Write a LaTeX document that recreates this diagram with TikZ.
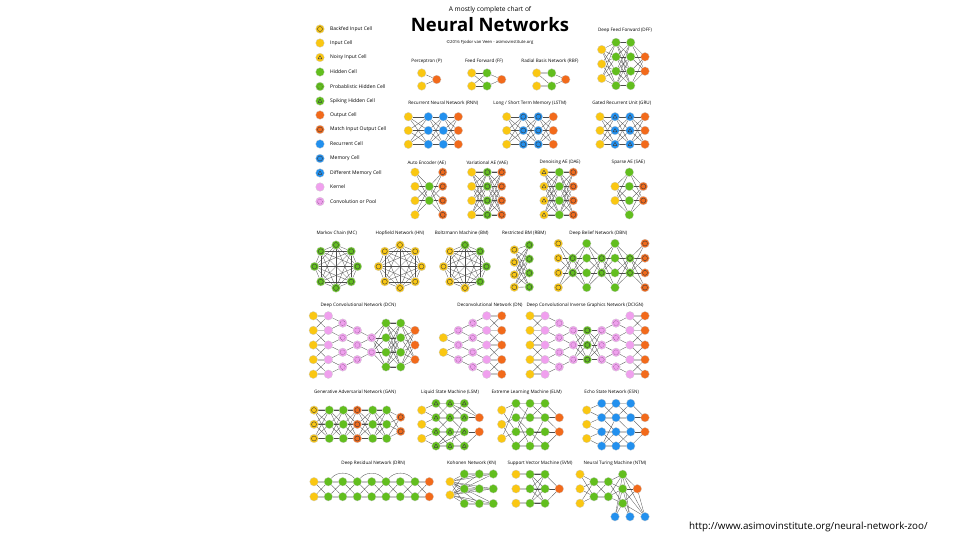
\documentclass[tikz,border=0pt]{standalone}
\usepackage{fontspec}
\setmainfont{Open Sans}
\usetikzlibrary{calc}
\definecolor{cyel}{HTML}{FAC712}
\definecolor{cgrn}{HTML}{62BE1E}
\definecolor{corg}{HTML}{F26A1B}
\definecolor{cblu}{HTML}{2290EE}
\definecolor{cpnk}{HTML}{F0A0EE}
\pgfdeclarelayer{paper}
\pgfdeclarelayer{bg}
\pgfsetlayers{paper,bg,main}
\tikzset{
 cell/.style={circle,minimum size=8.6pt,inner sep=0pt,draw=black!20,line width=0.25pt},
 ring/.style={path picture={\draw[line width=0.4pt,black!75] (path picture bounding box.center) circle (2.5pt);}},
 dring/.style={path picture={\draw[line width=0.4pt,black!75,densely dotted] (path picture bounding box.center) circle (2.5pt);}},
 tri/.style={path picture={\draw[line width=0.4pt,black!75,line join=round] ([shift={(-2pt,-1.4pt)}]path picture bounding box.center) -- ++(4pt,0pt) -- ++(-2pt,3.4pt) -- cycle;}},
 inp/.style={cell,fill=cyel}, bin/.style={inp,ring}, nin/.style={inp,tri},
 hid/.style={cell,fill=cgrn}, phid/.style={hid,ring}, shid/.style={hid,tri},
 outc/.style={cell,fill=corg}, mout/.style={outc,ring},
 rec/.style={cell,fill=cblu}, mem/.style={rec,ring}, dmem/.style={rec,tri},
 ker/.style={cell,fill=cpnk}, conv/.style={ker,dring},
 link/.style={black!70,line width=0.3pt},
 bar/.style={black!22,line width=1.8pt},
 ttl/.style={font=\fontsize{4.6}{5}\selectfont,inner sep=0pt},
 lgd/.style={font=\fontsize{5}{6}\selectfont,anchor=west,inner sep=0pt},
}
\newcommand\NNlay[6]{\foreach \i in {1,...,#4}{\node[#5] (#1\i) at (#2,{#3+(\i-(#4+1)/2)*#6}) {};}}
\newcommand\NNfull[4]{\begin{pgfonlayer}{bg}\foreach \i in {1,...,#2}{\foreach \j in {1,...,#4}{\draw[link] (#1\i) -- (#3\j);}}\end{pgfonlayer}}
\newcommand\NNbars[3]{\begin{pgfonlayer}{bg}\foreach \i in {1,...,#3}{\draw[bar] (#1\i) -- (#2\i);}\end{pgfonlayer}}
\newcommand\NNcross[3]{\NNbars{#1}{#2}{#3}\begin{pgfonlayer}{bg}\foreach \i in {2,...,#3}{\pgfmathtruncatemacro\im{\i-1}\draw[link] (#1\i) -- (#2\im) (#1\im) -- (#2\i);}\end{pgfonlayer}}
\newcommand\NNshrink[3]{\begin{pgfonlayer}{bg}\foreach \i in {1,...,#3}{\pgfmathtruncatemacro\ip{\i+1}\draw[link] (#2\i) -- (#1\i) (#2\i) -- (#1\ip);}\end{pgfonlayer}}
\newcommand\NNlk[1]{\begin{pgfonlayer}{bg}\foreach \a/\b in {#1}{\draw[link] (\a) -- (\b);}\end{pgfonlayer}}
\newcommand\NNoctfull[1]{\begin{pgfonlayer}{bg}\foreach \i in {1,...,7}{\pgfmathtruncatemacro\ipp{\i+1}\foreach \j in {\ipp,...,8}{\draw[link] (#1\i) -- (#1\j);}}\end{pgfonlayer}}
\begin{document}
\begin{tikzpicture}[x=1pt,y=-1pt]
\begin{pgfonlayer}{paper}
\fill[white] (0,0) rectangle (960,540);
\end{pgfonlayer}
\useasboundingbox (0,0) rectangle (960,540);
% header
\node[font=\fontsize{6.6}{7}\selectfont,inner sep=0pt] (hsub) at (490,10) {A mostly complete chart of};
\node[font=\fontsize{18.5}{20}\selectfont\bfseries,inner sep=0pt] (htitle) at (490,24.5) {Neural Networks};
\node[font=\fontsize{4.2}{5}\selectfont,inner sep=0pt] (hcopy) at (490,42) {©2016 Fjodor van Veen - asimovinstitute.org};
\node[font=\fontsize{9.8}{11}\selectfont,anchor=west,inner sep=0pt] (url) at (689,527) {http://www.asimovinstitute.org/neural-network-zoo/};
% legend
\node[bin]  (L1)  at (320,29) {};   \node[lgd] (L1t)  at (330,29) {Backfed Input Cell};
\node[inp]  (L2)  at (320,43) {};   \node[lgd] (L2t)  at (330,43) {Input Cell};
\node[nin]  (L3)  at (320,57.5) {}; \node[lgd] (L3t)  at (330,57.5) {Noisy Input Cell};
\node[hid]  (L4)  at (320,72) {};   \node[lgd] (L4t)  at (330,72) {Hidden Cell};
\node[hid,dring] (L5) at (320,86.5) {}; \node[lgd] (L5t) at (330,86.5) {Probablistic Hidden Cell};
\node[shid] (L6)  at (320,101) {};  \node[lgd] (L6t)  at (330,101) {Spiking Hidden Cell};
\node[outc] (L7)  at (320,115) {};  \node[lgd] (L7t)  at (330,115) {Output Cell};
\node[mout] (L8)  at (320,129.5) {};\node[lgd] (L8t)  at (330,129.5) {Match Input Output Cell};
\node[rec]  (L9)  at (320,144) {};  \node[lgd] (L9t)  at (330,144) {Recurrent Cell};
\node[mem]  (L10) at (320,158.5) {};\node[lgd] (L10t) at (330,158.5) {Memory Cell};
\node[dmem] (L11) at (320,173) {};  \node[lgd] (L11t) at (330,173) {Different Memory Cell};
\node[ker]  (L12) at (320,187) {};  \node[lgd] (L12t) at (330,187) {Kernel};
\node[conv] (L13) at (320,201.5) {};\node[lgd] (L13t) at (330,201.5) {Convolution or Pool};
% Perceptron
\node[ttl] (tP) at (426.7,61) {Perceptron (P)};
\NNlay{pa}{421.7}{79.5}{2}{inp}{13}
\NNlay{pb}{436.7}{79.5}{1}{outc}{13}
\NNfull{pa}{2}{pb}{1}
% FF
\node[ttl] (tFF) at (484,61) {Feed Forward (FF)};
\NNlay{fa}{471.7}{79.5}{2}{inp}{13}
\NNlay{fb}{487}{79.5}{2}{hid}{13}
\NNlay{fc}{501.7}{79.5}{1}{outc}{13}
\NNfull{fa}{2}{fb}{2}\NNfull{fb}{2}{fc}{1}
% RBF
\node[ttl] (tRBF) at (550,61) {Radial Basis Network (RBF)};
\NNlay{ra}{536.7}{79.5}{2}{inp}{13}
\NNlay{rb}{551.7}{79.5}{2}{hid}{13}
\NNlay{rc}{565.7}{79.5}{1}{outc}{13}
\NNbars{ra}{rb}{2}\NNlk{ra1/rb2}\NNfull{rb}{2}{rc}{1}
% DFF
\node[ttl] (tDFF) at (625,30) {Deep Feed Forward (DFF)};
\NNlay{da}{601.7}{64}{3}{inp}{14.4}
\NNlay{db}{616}{64}{4}{hid}{14.4}
\NNlay{dc}{630.7}{64}{4}{hid}{14.4}
\NNlay{dd}{645}{64}{2}{outc}{14.4}
\NNfull{da}{3}{db}{4}\NNfull{db}{4}{dc}{4}\NNfull{dc}{4}{dd}{2}
% RNN
\node[ttl] (tRNN) at (443.3,103.3) {Recurrent Neural Network (RNN)};
\NNlay{na}{408.3}{130.5}{3}{inp}{13.8}
\NNlay{nb}{428.3}{130.5}{3}{rec}{13.8}
\NNlay{nc}{443.3}{130.5}{3}{rec}{13.8}
\NNlay{nd}{458.3}{130.5}{3}{outc}{13.8}
\NNfull{na}{3}{nb}{3}\NNfull{nb}{3}{nc}{3}\NNfull{nc}{3}{nd}{3}
% LSTM
\node[ttl] (tLSTM) at (530,103.3) {Long / Short Term Memory (LSTM)};
\NNlay{la}{506.7}{130.5}{3}{inp}{13.8}
\NNlay{lb}{523.3}{130.5}{3}{mem}{13.8}
\NNlay{lc}{538.3}{130.5}{3}{mem}{13.8}
\NNlay{ld}{553.3}{130.5}{3}{outc}{13.8}
\NNfull{la}{3}{lb}{3}\NNfull{lb}{3}{lc}{3}\NNfull{lc}{3}{ld}{3}
% GRU
\node[ttl] (tGRU) at (621.7,103.3) {Gated Recurrent Unit (GRU)};
\NNlay{ga}{600}{130.5}{3}{inp}{13.8}
\NNlay{gb}{615}{130.5}{3}{dmem}{13.8}
\NNlay{gc}{630}{130.5}{3}{dmem}{13.8}
\NNlay{gd}{645}{130.5}{3}{outc}{13.8}
\NNfull{ga}{3}{gb}{3}\NNfull{gb}{3}{gc}{3}\NNfull{gc}{3}{gd}{3}
% AE
\node[ttl] (tAE) at (426.7,162.7) {Auto Encoder (AE)};
\NNlay{aa}{415}{193.5}{4}{inp}{14.2}
\NNlay{ab}{429.3}{193.5}{2}{hid}{14.2}
\NNlay{ac}{442.7}{193.5}{4}{mout}{14.2}
\NNfull{aa}{4}{ab}{2}\NNfull{ab}{2}{ac}{4}
% VAE
\node[ttl] (tVAE) at (487.3,162.7) {Variational AE (VAE)};
\NNlay{va}{471.7}{193.5}{4}{inp}{14.2}
\NNlay{vb}{487.3}{193.5}{4}{phid}{14.2}
\NNlay{vc}{501.7}{193.5}{4}{mout}{14.2}
\NNbars{va}{vb}{4}\NNbars{vb}{vc}{4}\NNfull{va}{4}{vb}{4}\NNfull{vb}{4}{vc}{4}
% DAE
\node[ttl] (tDAE) at (560,162.7) {Denoising AE (DAE)};
\NNlay{ea}{544}{193.5}{4}{nin}{14.2}
\NNlay{eb}{559.3}{193.5}{4}{hid}{14.2}
\NNlay{ec}{573.3}{193.5}{4}{mout}{14.2}
\NNbars{ea}{eb}{4}\NNbars{eb}{ec}{4}\NNfull{ea}{4}{eb}{4}\NNfull{eb}{4}{ec}{4}
% SAE
\node[ttl] (tSAE) at (628.3,162.7) {Sparse AE (SAE)};
\NNlay{sa}{615}{193.5}{2}{inp}{14.2}
\NNlay{sb}{629.3}{193.5}{4}{hid}{14.2}
\NNlay{sc}{643.3}{193.5}{2}{mout}{14.2}
\NNfull{sa}{2}{sb}{4}\NNfull{sb}{4}{sc}{2}
% MC
\node[ttl] (tMC) at (336.7,233.3) {Markov Chain (MC)};
\foreach \k in {1,...,8}{\node[phid] (mk\k) at ({336+21.5*cos(45*\k)},{266.5+21.5*sin(45*\k)}) {};}
\NNoctfull{mk}
% HN
\node[ttl] (tHN) at (400,233.3) {Hopfield Network (HN)};
\foreach \k in {1,...,8}{\node[bin] (hn\k) at ({400+21.5*cos(45*\k)},{266.5+21.5*sin(45*\k)}) {};}
\NNoctfull{hn}
% BM
\node[ttl] (tBM) at (461.7,233.3) {Boltzmann Machine (BM)};
\foreach \k in {2,3,4,5}{\node[bin] (bm\k) at ({465+21.5*cos(45*\k)},{266.5+21.5*sin(45*\k)}) {};}
\foreach \k in {1,6,7,8}{\node[phid] (bm\k) at ({465+21.5*cos(45*\k)},{266.5+21.5*sin(45*\k)}) {};}
\NNoctfull{bm}
% RBM
\node[ttl] (tRBM) at (524,233.3) {Restricted BM (RBM)};
\NNlay{rma}{514.3}{268.5}{4}{bin}{12.5}
\NNlay{rmb}{529.3}{266}{4}{phid}{14}
\NNfull{rma}{4}{rmb}{4}
% DBN
\node[ttl] (tDBN) at (598.3,233.3) {Deep Belief Network (DBN)};
\NNlay{ba}{558.3}{265.5}{4}{bin}{14.7}
\NNlay{bb}{572.7}{265.5}{2}{phid}{14.7}
\NNlay{bc}{586.7}{265.5}{4}{hid}{14.7}
\NNlay{bd}{601.7}{265.5}{2}{phid}{14.7}
\NNlay{be}{615}{265.5}{4}{hid}{14.7}
\NNlay{bf}{630}{265.5}{2}{phid}{14.7}
\NNlay{bg}{645}{265.5}{4}{mout}{14.7}
\NNfull{ba}{4}{bb}{2}\NNfull{bb}{2}{bc}{4}\NNfull{bc}{4}{bd}{2}\NNfull{bd}{2}{be}{4}\NNfull{be}{4}{bf}{2}\NNfull{bf}{2}{bg}{4}
% DCN
\node[ttl] (tDCN) at (358.3,305) {Deep Convolutional Network (DCN)};
\NNlay{ca}{313.3}{345}{5}{inp}{14.6}
\NNlay{cb}{328.3}{345}{5}{ker}{14.6}
\NNlay{cc}{342.7}{345}{4}{conv}{14.6}
\NNlay{cd}{357.3}{345}{3}{conv}{14.6}
\NNlay{ce}{371.7}{345}{2}{conv}{14.6}
\NNlay{cf}{386}{345}{4}{hid}{14.6}
\NNlay{cg}{400.7}{345}{4}{hid}{14.6}
\NNlay{ch}{415}{345}{3}{outc}{14.6}
\NNcross{ca}{cb}{5}\NNshrink{cb}{cc}{4}\NNshrink{cc}{cd}{3}\NNshrink{cd}{ce}{2}
\NNfull{ce}{2}{cf}{4}\NNbars{cf}{cg}{4}\NNfull{cf}{4}{cg}{4}\NNfull{cg}{4}{ch}{3}
% DN
\node[ttl] (tDN) at (490,305) {Deconvolutional Network (DN)};
\NNlay{xa}{443.3}{345}{2}{inp}{14.6}
\NNlay{xb}{458.3}{345}{3}{conv}{14.6}
\NNlay{xc}{472.7}{345}{4}{conv}{14.6}
\NNlay{xd}{486.7}{345}{5}{ker}{14.6}
\NNlay{xe}{501.7}{345}{5}{outc}{14.6}
\NNshrink{xb}{xa}{2}\NNshrink{xc}{xb}{3}\NNshrink{xd}{xc}{4}\NNcross{xd}{xe}{5}
% DCIGN
\node[ttl] (tDCIGN) at (585,305) {Deep Convolutional Inverse Graphics Network (DCIGN)};
\NNlay{ia}{530}{345}{5}{inp}{14.6}
\NNlay{ib}{545}{345}{5}{ker}{14.6}
\NNlay{ic}{559.3}{345}{4}{conv}{14.6}
\NNlay{id}{573.3}{345}{3}{conv}{14.6}
\NNlay{ie}{587.3}{345}{3}{phid}{14.6}
\NNlay{iq}{601.7}{345}{3}{conv}{14.6}
\NNlay{ig}{616}{345}{4}{conv}{14.6}
\NNlay{ih}{630}{345}{5}{ker}{14.6}
\NNlay{ii}{645}{345}{5}{outc}{14.6}
\NNcross{ia}{ib}{5}\NNshrink{ib}{ic}{4}\NNshrink{ic}{id}{3}\NNfull{id}{3}{ie}{3}\NNfull{ie}{3}{iq}{3}
\NNshrink{ig}{iq}{3}\NNshrink{ih}{ig}{4}\NNcross{ih}{ii}{5}
% GAN
\node[ttl] (tGAN) at (355,392.3) {Generative Adversarial Network (GAN)};
\NNlay{qa}{314}{424.3}{3}{bin}{14.2}
\NNlay{qb}{329.3}{424.3}{3}{hid}{14.2}
\NNlay{qc}{343.3}{424.3}{3}{hid}{14.2}
\NNlay{qd}{357.3}{424.3}{3}{mout}{14.2}
\NNlay{qe}{372.7}{424.3}{3}{hid}{14.2}
\NNlay{qf}{386.7}{424.3}{3}{hid}{14.2}
\NNlay{qg}{400.7}{424.3}{2}{mout}{14.2}
\NNbars{qa}{qb}{3}\NNbars{qb}{qc}{3}\NNbars{qc}{qd}{3}\NNbars{qd}{qe}{3}\NNbars{qe}{qf}{3}
\NNfull{qa}{3}{qb}{3}\NNfull{qb}{3}{qc}{3}\NNfull{qc}{3}{qd}{3}\NNfull{qd}{3}{qe}{3}\NNfull{qe}{3}{qf}{3}\NNfull{qf}{3}{qg}{2}
% LSM
\node[ttl] (tLSM) at (450,392.3) {Liquid State Machine (LSM)};
\NNlay{ka}{421.7}{424.3}{3}{inp}{14.2}
\NNlay{kb}{436}{424.7}{4}{shid}{14.2}
\NNlay{kc}{450}{424.7}{4}{shid}{14.2}
\NNlay{kd}{464.3}{424.7}{4}{shid}{14.2}
\NNlay{ke}{479.3}{424.7}{2}{outc}{14.2}
\NNbars{kb}{kc}{4}\NNbars{kc}{kd}{4}
\NNlk{ka1/kb1,ka1/kb2,ka2/kb2,ka2/kb3,ka3/kb3,ka3/kb4,kb1/kc2,kb2/kc1,kb2/kc3,kb3/kc2,kb3/kc4,kb4/kc3,kc1/kd2,kc2/kd1,kc2/kd3,kc3/kd4,kc4/kd2,kd1/ke1,kd2/ke1,kd3/ke2,kd4/ke2,kc1/ke1,kb4/kd3}
% ELM
\node[ttl] (tELM) at (526.7,392.3) {Extreme Learning Machine (ELM)};
\NNlay{ma}{501.7}{424.3}{3}{inp}{14.2}
\NNlay{mb}{516}{424.7}{4}{hid}{14.2}
\NNlay{mc}{530}{424.7}{4}{hid}{14.2}
\NNlay{md}{545}{424.7}{4}{hid}{14.2}
\NNlay{me}{559.3}{424.7}{2}{outc}{14.2}
\NNbars{mb}{mc}{4}\NNbars{mc}{md}{4}
\NNlk{ma1/mb1,ma1/mb3,ma2/mb2,ma2/mb4,ma3/mb3,ma3/mb1,mb1/mc2,mb2/mc4,mb3/mc1,mb4/mc3,mb2/mc3,mc1/md2,mc2/md1,mc3/md4,mc4/md2,mc3/md3,md1/me1,md2/me1,md3/me2,md4/me2,md2/me2}
% ESN
\node[ttl] (tESN) at (611.7,392.3) {Echo State Network (ESN)};
\NNlay{ta}{586.7}{424.3}{3}{inp}{14.2}
\NNlay{tb}{601.7}{424.7}{4}{rec}{14.2}
\NNlay{tc}{616}{424.7}{4}{rec}{14.2}
\NNlay{td}{630.7}{424.7}{4}{rec}{14.2}
\NNlay{te}{645}{424.7}{2}{outc}{14.2}
\NNbars{tb}{tc}{4}\NNbars{tc}{td}{4}
\NNlk{ta1/tb1,ta1/tb2,ta2/tb2,ta2/tb3,ta3/tb4,ta3/tb3,tb1/tc2,tb2/tc1,tb2/tc3,tb3/tc4,tb4/tc3,tb4/tc2,tc1/td2,tc2/td1,tc3/td4,tc4/td3,tc2/td3,td1/te1,td2/te1,td3/te2,td4/te2,td2/te2}
% DRN
\node[ttl] (tDRN) at (373.3,463.3) {Deep Residual Network (DRN)};
\NNlay{rza}{314}{489.2}{2}{inp}{15}
\NNlay{rzb}{328.3}{489.2}{2}{hid}{15}
\NNlay{rzc}{342.7}{489.2}{2}{hid}{15}
\NNlay{rzd}{357.3}{489.2}{2}{hid}{15}
\NNlay{rze}{371.7}{489.2}{2}{hid}{15}
\NNlay{rzf}{386}{489.2}{2}{hid}{15}
\NNlay{rzg}{400.3}{489.2}{2}{hid}{15}
\NNlay{rzh}{415}{489.2}{2}{hid}{15}
\NNlay{rzi}{429.3}{489.2}{2}{outc}{15}
\NNcross{rza}{rzb}{2}\NNcross{rzb}{rzc}{2}\NNcross{rzc}{rzd}{2}\NNcross{rzd}{rze}{2}
\NNcross{rze}{rzf}{2}\NNcross{rzf}{rzg}{2}\NNcross{rzg}{rzh}{2}\NNcross{rzh}{rzi}{2}
\begin{pgfonlayer}{bg}
\draw[link] (rzb1) to[bend left=50] (rzd1);
\draw[link] (rzd1) to[bend left=50] (rzf1);
\draw[link] (rzf1) to[bend left=50] (rzh1);
\end{pgfonlayer}
% KN
\node[ttl] (tKN) at (471.7,463.3) {Kohonen Network (KN)};
\NNlay{kya}{450}{488.3}{2}{inp}{13.3}
\NNlay{kga}{464.3}{488.8}{3}{hid}{14.8}
\NNlay{kgb}{479.3}{488.8}{3}{hid}{14.8}
\NNlay{kgc}{493.3}{488.8}{3}{hid}{14.8}
\NNbars{kga}{kgb}{3}\NNbars{kgb}{kgc}{3}
\NNfull{kya}{2}{kga}{3}\NNfull{kya}{2}{kgb}{3}\NNfull{kya}{2}{kgc}{3}
% SVM
\node[ttl] (tSVM) at (540,463.3) {Support Vector Machine (SVM)};
\NNlay{wa}{516}{488.8}{3}{inp}{14.5}
\NNlay{wb}{530}{488.8}{3}{hid}{14.5}
\NNlay{wc}{545}{488.8}{3}{hid}{14.5}
\NNlay{wd}{559.3}{488.8}{1}{outc}{14.5}
\NNbars{wa}{wb}{3}\NNbars{wb}{wc}{3}\NNfull{wb}{3}{wc}{3}\NNfull{wc}{3}{wd}{1}
% NTM
\node[ttl] (tNTM) at (615,463.3) {Neural Turing Machine (NTM)};
\NNlay{ua}{580}{488.8}{3}{inp}{14.5}
\NNlay{ub}{594}{489.2}{2}{hid}{15}
\NNlay{uc}{608.3}{489.2}{2}{hid}{15}
\NNlay{ud}{622.7}{488.8}{3}{hid}{14.5}
\NNlay{ue}{637.3}{488.8}{1}{outc}{14.5}
\node[rec] (uf1) at (615,516.7) {};
\node[rec] (uf2) at (630,516.7) {};
\node[rec] (uf3) at (645,516.7) {};
\NNfull{ua}{3}{ub}{2}\NNcross{ub}{uc}{2}\NNfull{uc}{2}{ud}{3}\NNfull{ud}{3}{ue}{1}\NNfull{ud}{3}{uf}{3}
\NNlk{uf3/ue1}
\end{tikzpicture}
\end{document}
